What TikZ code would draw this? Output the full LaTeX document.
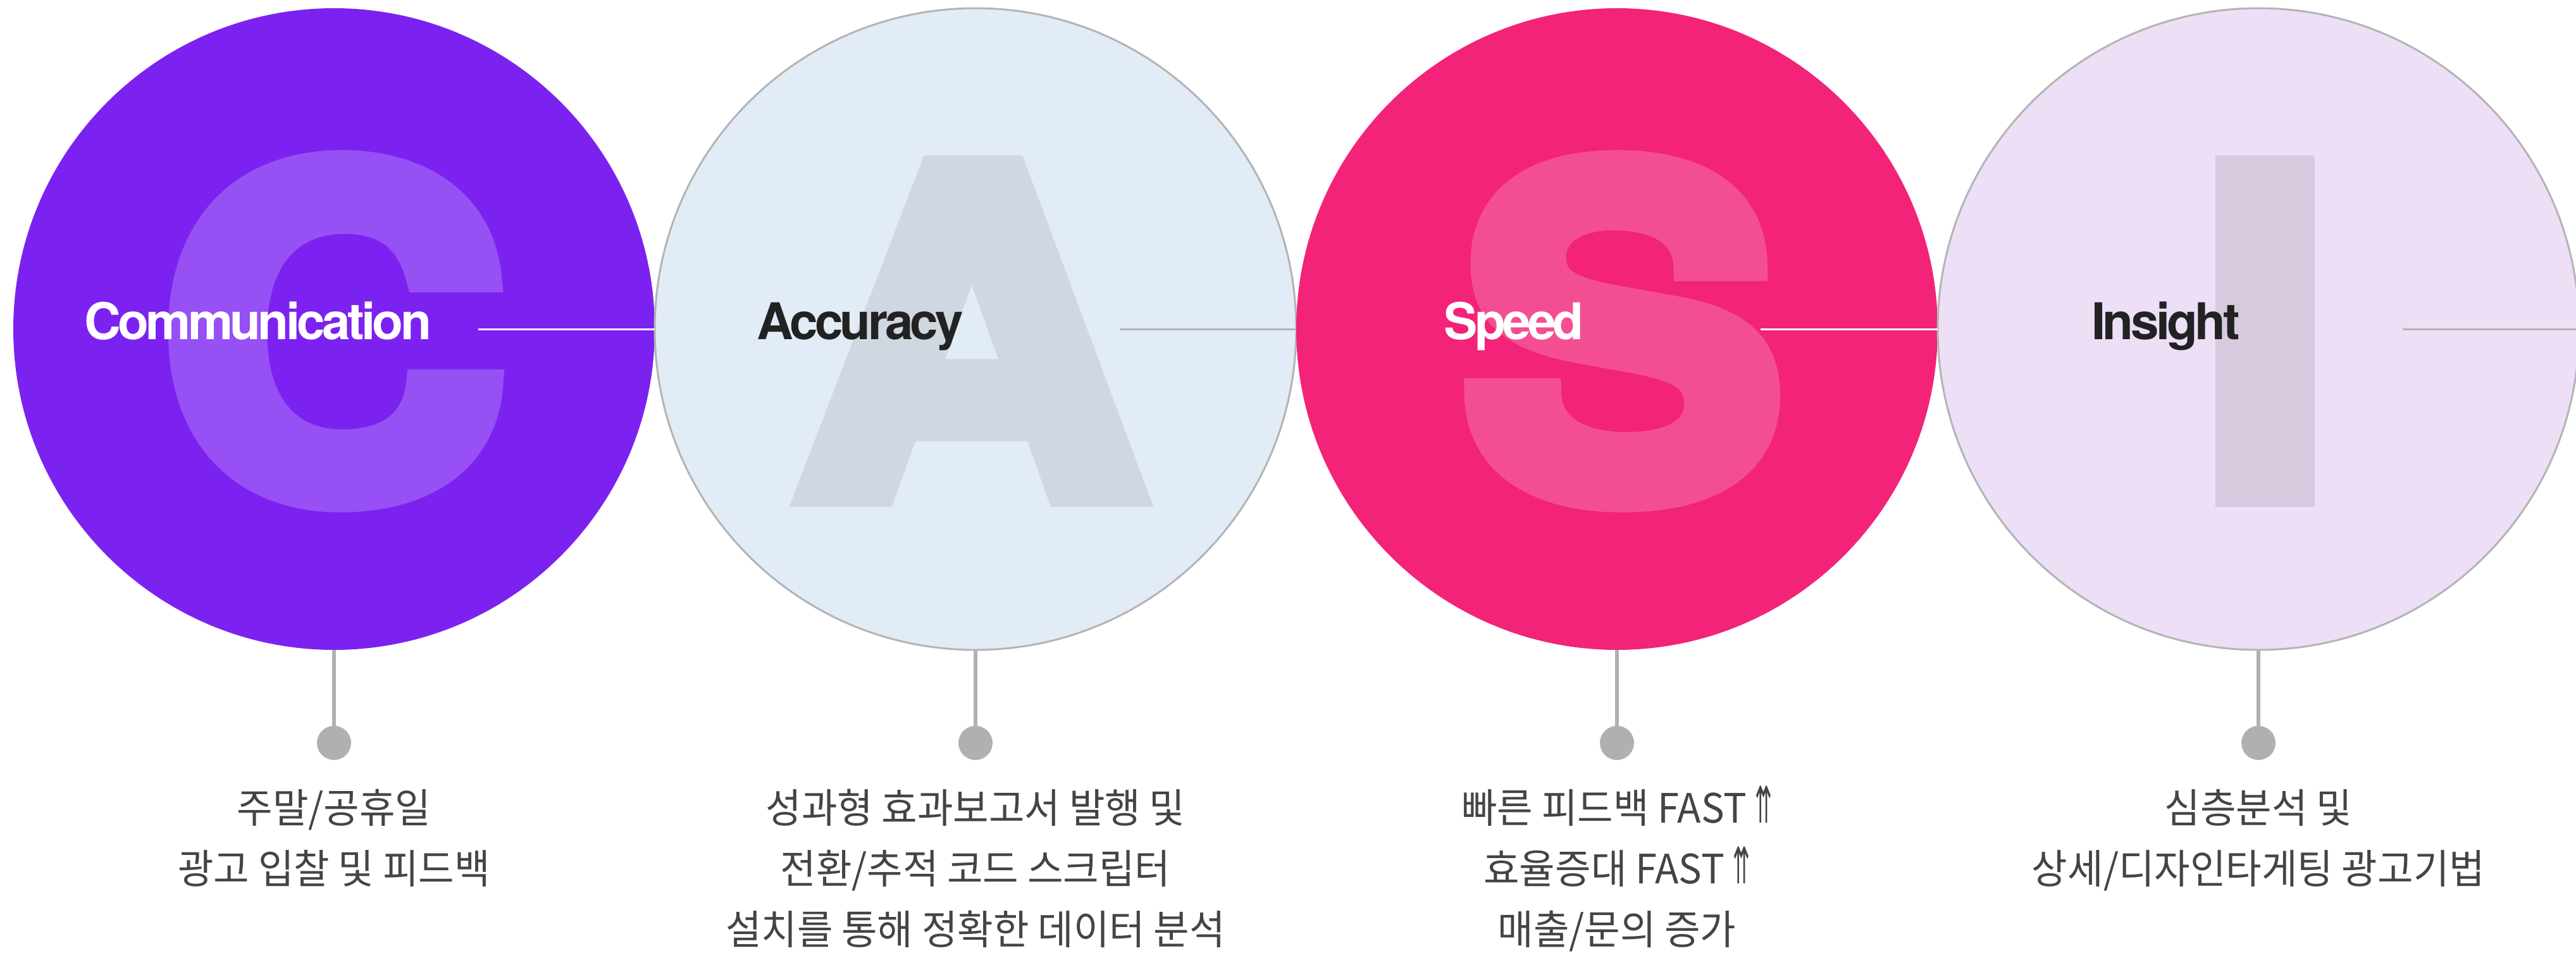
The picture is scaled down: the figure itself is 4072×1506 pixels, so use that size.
\documentclass[tikz,border=0pt]{standalone}
\usepackage{fontspec}
\usepackage{graphicx}
\usepackage{tikz}
\usetikzlibrary{positioning}

\newfontfamily\headfont[LetterSpace=-5.8]{TeX Gyre Heros}
\newfontfamily\bigfont[FakeStretch=1.08,BoldFeatures={FakeBold=6}]{TeX Gyre Heros}
\newfontfamily\kofont[FakeStretch=0.96]{Noto Sans CJK KR}
\newfontfamily\arrowfont{DejaVu Sans}

\definecolor{violetC}{HTML}{7C22F0}
\definecolor{violetL}{HTML}{9650F4}
\definecolor{skyA}{HTML}{E2ECF7}
\definecolor{skyL}{HTML}{CFD8E0}
\definecolor{roseS}{HTML}{F22379}
\definecolor{roseL}{HTML}{F44E93}
\definecolor{lilacI}{HTML}{ECDFF6}
\definecolor{lilacL}{HTML}{D8CADE}
\definecolor{rim}{HTML}{B4B4B4}
\definecolor{stemgray}{HTML}{B0B0B0}
\definecolor{ink}{HTML}{222222}
\definecolor{notegray}{HTML}{444444}

\newcommand{\upup}{\scalebox{0.5}[1.25]{\arrowfont ⇈}}

\begin{document}
\begin{tikzpicture}[x=1pt,y=-1pt,
    ring/.style={circle,minimum size=1014pt,inner sep=0pt,outer sep=0pt},
    bigletter/.style={anchor=base,inner sep=0pt,font=\bigfont\bfseries\fontsize{704}{704}\selectfont},
    headword/.style={anchor=base west,inner sep=0pt,font=\headfont\bfseries\fontsize{80}{80}\selectfont},
    crossline/.style={line width=3pt},
    stem/.style={draw=stemgray,line width=6pt},
    knob/.style={circle,fill=stemgray,minimum size=54pt,inner sep=0pt},
    note/.style={anchor=base,align=center,inner sep=0pt,text=notegray,font=\kofont\fontsize{64}{96}\selectfont}]
  \useasboundingbox (0,0) rectangle (4072,1506);

  % circles
  \node [ring,fill=violetC] (c) at (528,520) {};
  \node [ring,fill=skyA,draw=rim,line width=3pt] (a) at (1542,520) {};
  \node [ring,fill=roseS] (s) at (2556,520) {};
  \node [ring,fill=lilacI,draw=rim,line width=3pt] (i) at (3570,520) {};

  % big letters
  \node [bigletter,text=violetL] (c-big) at (528,780) {C};
  \node [bigletter,text=skyL] (a-big) at (1533,780) {A};
  \node [bigletter,text=roseL] (s-big) at (2565,780) {S};
  \node [bigletter,text=lilacL] (i-big) at (3581,780) {I};

  % labels
  \node [headword,text=white] (c-head) at (133,536) {Communication};
  \node [headword,text=ink] (a-head) at (1196,536) {Accuracy};
  \node [headword,text=white] (s-head) at (2282,536) {Speed};
  \node [headword,text=ink] (i-head) at (3306,536) {Insight};

  \coordinate (c-tick) at (756,520);
  \coordinate (a-tick) at (1770,520);
  \coordinate (s-tick) at (2783,520);
  \coordinate (i-tick) at (3798,520);
  \draw [crossline,white] (c-tick) -- (c.east);
  \draw [crossline,rim] (a-tick) -- (a.east);
  \draw [crossline,white] (s-tick) -- (s.east);
  \draw [crossline,rim] (i-tick) -- (i.east);

  % stems and dots
  \node [knob] (c-dot) at (528,1174) {};
  \node [knob] (a-dot) at (1542,1174) {};
  \node [knob] (s-dot) at (2556,1174) {};
  \node [knob] (i-dot) at (3570,1174) {};
  \draw [stem] (c.south) -- (c-dot);
  \draw [stem] (a.south) -- (a-dot);
  \draw [stem] (s.south) -- (s-dot);
  \draw [stem] (i.south) -- (i-dot);

  % notes (placed at the baseline of their last line)
  \node [note] (c-note) at (528,1396) {주말/공휴일\\광고 입찰 및 피드백};
  \node [note] (a-note) at (1542,1492) {성과형 효과보고서 발행 및\\전환/추적 코드 스크립터\\설치를 통해 정확한 데이터 분석};
  \node [note] (s-note) at (2556,1492) {빠른 피드백 FAST \upup\\효율증대 FAST \upup\\매출/문의 증가};
  \node [note] (i-note) at (3570,1396) {심층분석 및\\상세/디자인타게팅 광고기법};
\end{tikzpicture}
\end{document}
